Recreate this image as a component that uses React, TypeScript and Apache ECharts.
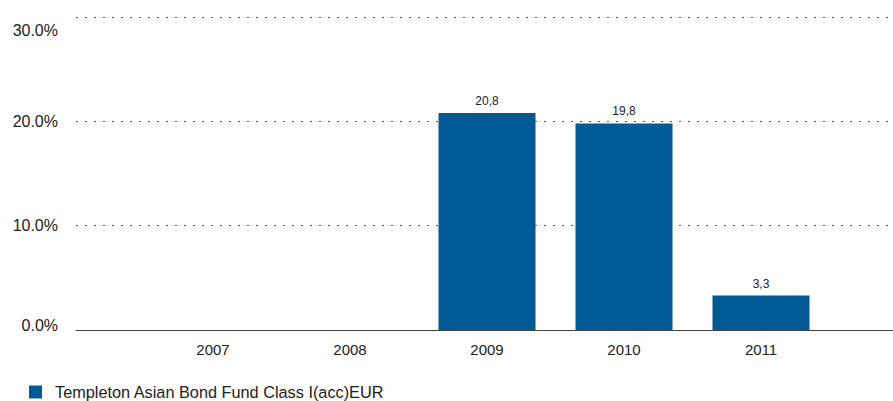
import React, { useEffect, useRef } from "react";
import * as echarts from "echarts";

const categories = ["", "2007", "2008", "2009", "2010", "2011", ""];
const values: (number | null)[] = [null, null, null, 20.8, 19.8, 3.3, null];
const seriesName = "Templeton Asian Bond Fund Class I(acc)EUR";
const yTicks = [0, 10, 20, 30];

export default function App() {
  const ref = useRef<HTMLDivElement>(null);
  useEffect(() => {
    if (!ref.current) return;
    const chart = echarts.init(ref.current, null, { renderer: "svg" });
    const font = "Liberation Sans, Arial, sans-serif";
    const yMin = yTicks[0];
    const yMax = yTicks[yTicks.length - 1];
    chart.setOption({
      animation: false,
      textStyle: { fontFamily: font },
      grid: { left: 76, width: 822, top: 17, bottom: 71, outerBoundsMode: "none", containLabel: false },
      legend: {
        left: 24,
        top: 379,
        itemWidth: 13,
        itemHeight: 13,
        icon: "rect",
        textStyle: { fontSize: 16.3, color: "#222", fontFamily: font, padding: [0, 0, 0, 8] },
        data: [seriesName],
      },
      xAxis: {
        type: "category",
        data: categories,
        boundaryGap: false,
        axisLine: { show: true, lineStyle: { color: "#444", width: 1 } },
        axisTick: { show: false },
        axisLabel: { fontSize: 15, color: "#222", margin: 12, interval: 0 },
        splitLine: { show: false },
      },
      yAxis: {
        type: "value",
        min: yMin,
        max: yMax,
        interval: 10,
        axisLine: { show: false },
        axisTick: { show: false },
        axisLabel: {
          fontSize: 16,
          color: "#222",
          margin: 18,
          formatter: (v: number) => {
            const t = v.toFixed(1) + "%";
            if (v === yMax) return "{mx|" + t + "}";
            if (v === yMin) return "{mn|" + t + "}";
            return t;
          },
          rich: {
            mx: { fontSize: 16, color: "#222", lineHeight: 26 },
            mn: { fontSize: 16, color: "#222", lineHeight: 10 },
          },
          verticalAlignMaxLabel: "top",
          verticalAlignMinLabel: "bottom",
        },
        splitLine: { show: true, lineStyle: { color: "#555", type: [2, 7], width: 1 } },
      },
      series: [
        {
          name: seriesName,
          type: "bar",
          data: values,
          barWidth: 97,
          itemStyle: { color: "#025a94" },
          label: {
            show: true,
            position: "top",
            distance: 6,
            fontSize: 12,
            color: "#222",
            formatter: (p: any) => (p.value == null ? "" : String(p.value.toFixed(1)).replace(".", ",")),
          },
        },
      ],
    });
    return () => chart.dispose();
  }, []);
  return <div ref={ref} style={{ width: 893, height: 401, position: "absolute", left: 0, top: 0 }} />;
}
